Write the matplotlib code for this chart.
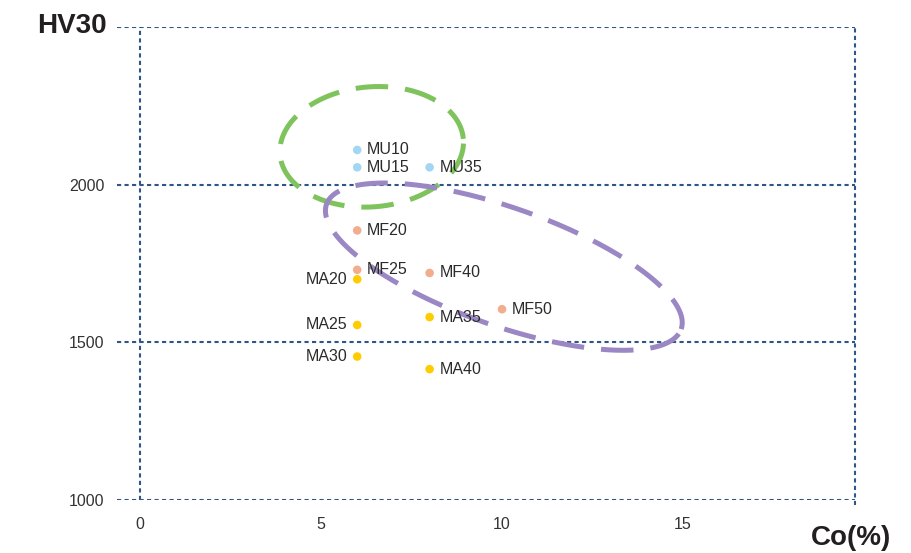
import numpy as np
import matplotlib
matplotlib.use('Agg')
import matplotlib.pyplot as plt

plt.rcParams['font.family'] = ['Liberation Sans', 'DejaVu Sans']

# sample data: Co content (%) vs hardness HV30
names = ['MU10', 'MU15', 'MU35',
         'MF20', 'MF25', 'MF40', 'MF50',
         'MA20', 'MA25', 'MA30', 'MA35', 'MA40']
co = [6, 6, 8,
      6, 6, 8, 10,
      6, 6, 6, 8, 8]
hv = [2110, 2055, 2055,
      1855, 1730, 1720, 1605,
      1700, 1555, 1455, 1580, 1415]
groups = ['MU', 'MU', 'MU',
          'MF', 'MF', 'MF', 'MF',
          'MA', 'MA', 'MA', 'MA', 'MA']
label_side = ['r', 'r', 'r',
              'r', 'r', 'r', 'r',
              'l', 'l', 'l', 'r', 'r']
group_colors = {'MU': '#a3d6f3', 'MF': '#f2ac8e', 'MA': '#ffcc00'}

x_ticks = [0, 5, 10, 15]
y_ticks = [1000, 1500, 2000]
y_grid = [1000, 1500, 2000, 2500]

grid_color = '#2f5589'
grid_ls = (0, (2, 1.6))


def dashed_ellipse(ax, center, a_px, b_px, angle_deg, color):
    # ellipse drawn in screen space so the tilt looks right
    cx, cy = ax.transData.transform(center)
    t = np.linspace(0, 2 * np.pi, 400)
    th = np.radians(angle_deg)
    px = cx + a_px * np.cos(t) * np.cos(th) - b_px * np.sin(t) * np.sin(th)
    py = cy + a_px * np.cos(t) * np.sin(th) + b_px * np.sin(t) * np.cos(th)
    pts = ax.transData.inverted().transform(np.column_stack([px, py]))
    ax.plot(pts[:, 0], pts[:, 1], color=color, lw=3.6,
            linestyle=(0, (6.5, 3.4)), solid_capstyle='butt', zorder=2)


fig = plt.figure(figsize=(9.12, 5.53), dpi=100)
ax = fig.add_axes([117 / 912, 53 / 553, (855 - 117) / 912, (500 - 27) / 553])
ax.set_xlim(-0.635, 19.75)
ax.set_ylim(1000, 2500)

for s in ax.spines.values():
    s.set_visible(False)
ax.tick_params(length=0)
ax.set_xticks(x_ticks)
ax.set_yticks(y_ticks)
ax.tick_params(axis='x', labelsize=11.5, colors='#333333', pad=12)
ax.tick_params(axis='y', labelsize=11.5, colors='#333333', pad=9)

for yv in y_grid:
    ax.axhline(yv, color=grid_color, lw=1.5, linestyle=grid_ls, zorder=1)
ax.axvline(0, color=grid_color, lw=1.5, linestyle=grid_ls, zorder=1)
ax.plot([19.75, 19.75], [985, 2500], color=grid_color, lw=1.5,
        linestyle=grid_ls, zorder=1, clip_on=False)

for n, x, y, g, side in zip(names, co, hv, groups, label_side):
    ax.scatter(x, y, s=38, color=group_colors[g], edgecolors='none', zorder=3)
    if side == 'r':
        ax.annotate(n, (x, y), xytext=(7, 0), textcoords='offset points',
                    ha='left', va='center', fontsize=11.5, color='#2b2b2b', zorder=4)
    else:
        ax.annotate(n, (x, y), xytext=(-7, 0), textcoords='offset points',
                    ha='right', va='center', fontsize=11.5, color='#2b2b2b', zorder=4)

fig.canvas.draw()
dashed_ellipse(ax, (6.4, 2120), 92, 60, 5, '#7ec35c')
dashed_ellipse(ax, (10.05, 1740), 188, 59, -19.4, '#9a87c4')

fig.text(72 / 912, 1 - 26 / 553, 'HV30', ha='center', va='center',
         fontsize=20, fontweight='bold', color='#231f20')
fig.text(851 / 912, 1 - 538 / 553, 'Co(%)', ha='center', va='center',
         fontsize=20, fontweight='bold', color='#231f20')

fig.savefig('out.png', dpi=100)
